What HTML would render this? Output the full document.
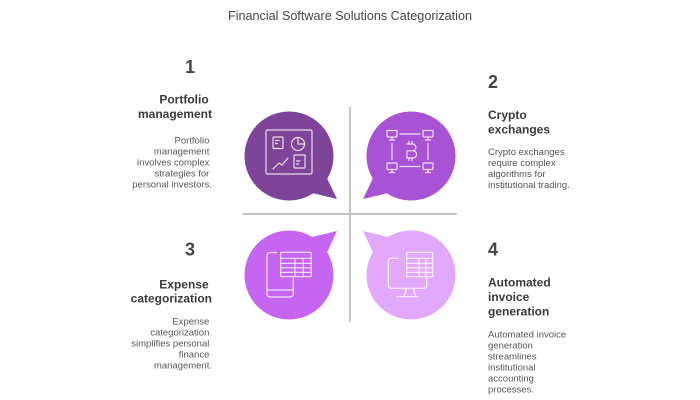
<!DOCTYPE html>
<html>
<head>
<meta charset="utf-8">
<style>
  html,body{margin:0;padding:0;background:#fff;}
  svg{display:block;}
  .t{font-family:"Liberation Sans",Arial,sans-serif;}
  .num{font-size:18px;font-weight:bold;fill:#444;}
  .hd{font-size:12px;font-weight:bold;fill:#3a3a3a;}
  .bd{font-size:9.5px;fill:#555;}
  .ic{fill:none;stroke:#fff;stroke-opacity:0.82;stroke-width:1.2;stroke-linecap:round;stroke-linejoin:round;}
</style>
</head>
<body>
<svg width="700" height="400" viewBox="0 0 700 400" xmlns="http://www.w3.org/2000/svg">
  <rect width="700" height="400" fill="#fff"/>
  <text class="t" x="350" y="20" text-anchor="middle" font-size="13" fill="#444" textLength="244" lengthAdjust="spacingAndGlyphs">Financial Software Solutions Categorization</text>

  <!-- divider lines -->
  <line x1="350" y1="107" x2="350" y2="322" stroke="#c4c4c4" stroke-width="2"/>
  <line x1="243" y1="214" x2="457" y2="214" stroke="#c4c4c4" stroke-width="2"/>

  <!-- bubbles -->
  <g fill="#7e4499">
    <circle cx="289" cy="156" r="44.5"/>
    <polygon points="324,172 337,199 312,193"/>
  </g>
  <g fill="#a853d6">
    <circle cx="411" cy="156" r="44.5"/>
    <polygon points="376,172 363,199 388,193"/>
  </g>
  <g fill="#c565f1">
    <circle cx="289" cy="275" r="44.5"/>
    <polygon points="324,259 337,231 312,237"/>
  </g>
  <g fill="#e1a8fb">
    <circle cx="411" cy="275" r="44.5"/>
    <polygon points="376,259 363,231 388,237"/>
  </g>

  <!-- icon 1 : dashboard -->
  <g class="ic">
    <rect x="266" y="130" width="46" height="44" rx="1.5"/>
    <rect x="273" y="137" width="10" height="11.5" rx="0.8"/>
    <line x1="275.5" y1="140.5" x2="279" y2="140.5"/>
    <line x1="275.5" y1="143.5" x2="277.5" y2="143.5"/>
    <circle cx="298" cy="144" r="6.5"/>
    <path d="M298,137.5 V144 H304.5"/>
    <polyline points="273,169 279,163 282,165 288,158"/>
    <rect x="294" y="155" width="11" height="13" rx="0.8"/>
    <line x1="296.5" y1="161" x2="300" y2="161"/>
    <line x1="296.5" y1="164" x2="298.5" y2="164"/>
  </g>

  <!-- icon 2 : crypto network -->
  <g class="ic">
    <!-- monitors -->
    <rect x="387" y="130.5" width="10" height="6.5" rx="0.6"/>
    <path d="M392,137 V140 M389.5,140 H394.5"/>
    <rect x="423" y="130.5" width="10" height="6.5" rx="0.6"/>
    <path d="M428,137 V140 M425.5,140 H430.5"/>
    <rect x="387" y="163" width="10" height="6.5" rx="0.6"/>
    <path d="M392,169.5 V172.5 M389.5,172.5 H394.5"/>
    <rect x="423" y="163" width="10" height="6.5" rx="0.6"/>
    <path d="M428,169.5 V172.5 M425.5,172.5 H430.5"/>
    <!-- connectors -->
    <line x1="400" y1="134" x2="420" y2="134"/>
    <line x1="400" y1="166.5" x2="420" y2="166.5"/>
    <line x1="392" y1="143.5" x2="392" y2="159.5"/>
    <line x1="428" y1="143.5" x2="428" y2="159.5"/>
    <!-- bitcoin -->
    <path d="M407,144 H412.5 A3.4,3.4 0 0 1 412.5,150.8 H407 M407,150.8 H413 A3.6,3.6 0 0 1 413,158 H407 Z"/>
    <path d="M409,141.5 V144 M412,141.5 V144 M409,158 V160.5 M412,158 V160.5"/>
  </g>

  <!-- icon 3 : phone + table -->
  <g class="ic">
    <path d="M276.5,252.5 H270 A3,3 0 0 0 267,255.5 V294 A3,3 0 0 0 270,297 H290.3 A3,3 0 0 0 293.3,294 V278"/>
    <line x1="267" y1="290" x2="293.3" y2="290"/>
    <rect x="280.7" y="252.3" width="30.5" height="24.4" rx="1"/>
    <line x1="280.7" y1="258.3" x2="311.2" y2="258.3"/>
    <line x1="280.7" y1="263.3" x2="311.2" y2="263.3"/>
    <line x1="280.7" y1="267.8" x2="311.2" y2="267.8"/>
    <line x1="280.7" y1="272.3" x2="311.2" y2="272.3"/>
    <line x1="295" y1="258.3" x2="295" y2="276.7"/>
    <line x1="303.3" y1="258.3" x2="303.3" y2="276.7"/>
  </g>

  <!-- icon 4 : monitor + table -->
  <g class="ic">
    <path d="M398.3,258.3 H391 A2.7,2.7 0 0 0 388.3,261 V285.6 A2.7,2.7 0 0 0 391,288.3 H424 A2.7,2.7 0 0 0 426.7,285.6 V278"/>
    <path d="M406.5,288.3 L404,296.5 M413.5,288.3 L415.5,296.5"/>
    <line x1="396.7" y1="296.7" x2="418.3" y2="296.7"/>
    <rect x="406.7" y="252.3" width="26" height="24.4" rx="1"/>
    <line x1="406.7" y1="258.3" x2="432.7" y2="258.3"/>
    <line x1="406.7" y1="263.3" x2="432.7" y2="263.3"/>
    <line x1="406.7" y1="267.8" x2="432.7" y2="267.8"/>
    <line x1="406.7" y1="272.3" x2="432.7" y2="272.3"/>
    <line x1="419" y1="258.3" x2="419" y2="276.7"/>
    <line x1="426" y1="258.3" x2="426" y2="276.7"/>
  </g>

  <!-- block 1 -->
  <text class="t num" x="190" y="73" text-anchor="middle">1</text>
  <text class="t hd" text-anchor="end">
    <tspan x="212" y="103.5">Portfolio</tspan>
    <tspan x="212" y="117.8">management</tspan>
  </text>
  <text class="t bd" text-anchor="end">
    <tspan x="212" y="143.3">Portfolio</tspan>
    <tspan x="212" y="154.3">management</tspan>
    <tspan x="212" y="165.3">involves complex</tspan>
    <tspan x="212" y="176.3">strategies for</tspan>
    <tspan x="212" y="187.3">personal investors.</tspan>
  </text>

  <!-- block 2 -->
  <text class="t num" x="488" y="88">2</text>
  <text class="t hd">
    <tspan x="488" y="119">Crypto</tspan>
    <tspan x="488" y="133.3">exchanges</tspan>
  </text>
  <text class="t bd">
    <tspan x="488" y="155">Crypto exchanges</tspan>
    <tspan x="488" y="166">require complex</tspan>
    <tspan x="488" y="177">algorithms for</tspan>
    <tspan x="488" y="188">institutional trading.</tspan>
  </text>

  <!-- block 3 -->
  <text class="t num" x="190" y="255.3" text-anchor="middle">3</text>
  <text class="t hd" text-anchor="end">
    <tspan x="212" y="288.3">Expense</tspan>
    <tspan x="212" y="302.5">categorization</tspan>
  </text>
  <text class="t bd" text-anchor="end">
    <tspan x="212" y="324.3">Expense</tspan>
    <tspan x="212" y="335.3">categorization</tspan>
    <tspan x="212" y="346.3">simplifies personal</tspan>
    <tspan x="212" y="357.3">finance</tspan>
    <tspan x="212" y="368.3">management.</tspan>
  </text>

  <!-- block 4 -->
  <text class="t num" x="488" y="255.3">4</text>
  <text class="t hd">
    <tspan x="488" y="286.7">Automated</tspan>
    <tspan x="488" y="301">invoice</tspan>
    <tspan x="488" y="315.3">generation</tspan>
  </text>
  <text class="t bd">
    <tspan x="488" y="337.3">Automated invoice</tspan>
    <tspan x="488" y="348.3">generation</tspan>
    <tspan x="488" y="359.3">streamlines</tspan>
    <tspan x="488" y="370.3">institutional</tspan>
    <tspan x="488" y="381.3">accounting</tspan>
    <tspan x="488" y="392.3">processes.</tspan>
  </text>
</svg>
</body>
</html>
